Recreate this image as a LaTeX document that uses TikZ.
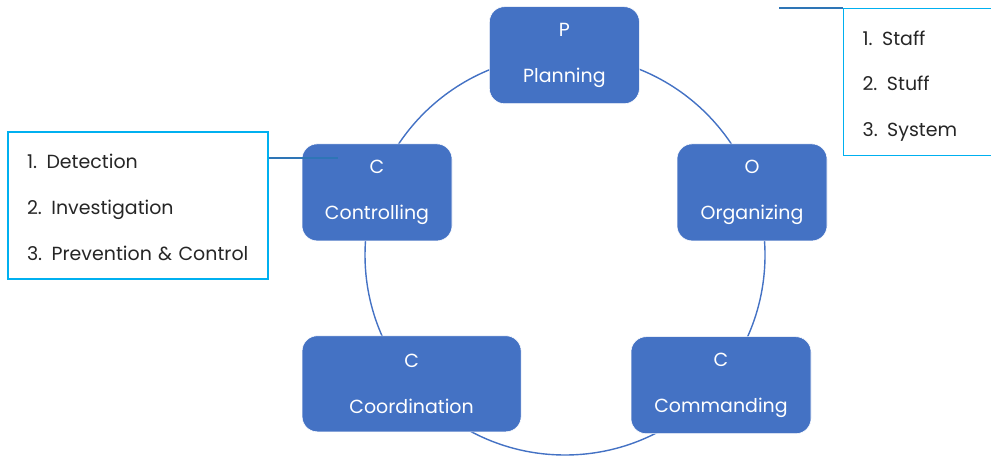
\documentclass[tikz,border=0pt]{standalone}
\usepackage{fontspec}
\setmainfont{Poppins}
\usepackage{tikz}
\usetikzlibrary{positioning,calc}
\definecolor{boxblue}{HTML}{4472C4}
\definecolor{notecyan}{HTML}{00B0F0}
\definecolor{linkblue}{HTML}{2E75B6}

\begin{document}
\begin{tikzpicture}[
  stage/.style={fill=boxblue,draw=white,thin,rounded corners=.38cm,minimum width=3.75cm,
    minimum height=2.425cm,text=white,align=center,inner sep=0pt,
    font=\fontsize{13.5}{33}\selectfont},
  note/.style={draw=notecyan,line width=.8pt,fill=white,align=left,inner xsep=.475cm,
    minimum height=3.675cm,text=black!85,font=\fontsize{13.5}{32.5}\selectfont},
  link/.style={draw=linkblue,line width=.9pt}]
\clip (0,0) rectangle (24.775,11.45);
% ring behind the stages
\draw[boxblue,line width=1pt] (14.125,5.075) circle (5);
% stages
\node[stage] (plan) at (14.11,10.07) {P\\Planning};
\node[stage] (org) at (18.8,6.64) {O\\Organizing};
\node[stage,minimum width=4.5cm] (cmd) at (18.025,1.82) {C\\Commanding};
\node[stage,minimum width=5.475cm,minimum height=2.4cm] (coord) at (10.29,1.855) {C\\Coordination};
\node[stage] (ctrl) at (9.425,6.64) {C\\Controlling};
% notes (the rule on line one drops the list a little)
\node[note,text width=5.55cm,minimum width=6.5cm] (ctrlnote) at (3.45,6.3125)
  {\rule{0pt}{13pt}1. Detection\\2. Investigation\\3. Prevention \& Control};
\node[note,text width=3.6cm,minimum width=4.55cm,anchor=north west] (orgnote) at (21.075,11.25)
  {\rule{0pt}{16pt}1. Staff\\2. Stuff\\3. System};
% callout lines
\coordinate (ctrltip) at (8.45,7.5);
\coordinate (orgtip) at (19.475,11.25);
\draw[link] (ctrlnote.east |- ctrltip) -- (ctrltip);
\draw[link] (orgtip) -- (orgnote.north west);
\end{tikzpicture}
\end{document}
